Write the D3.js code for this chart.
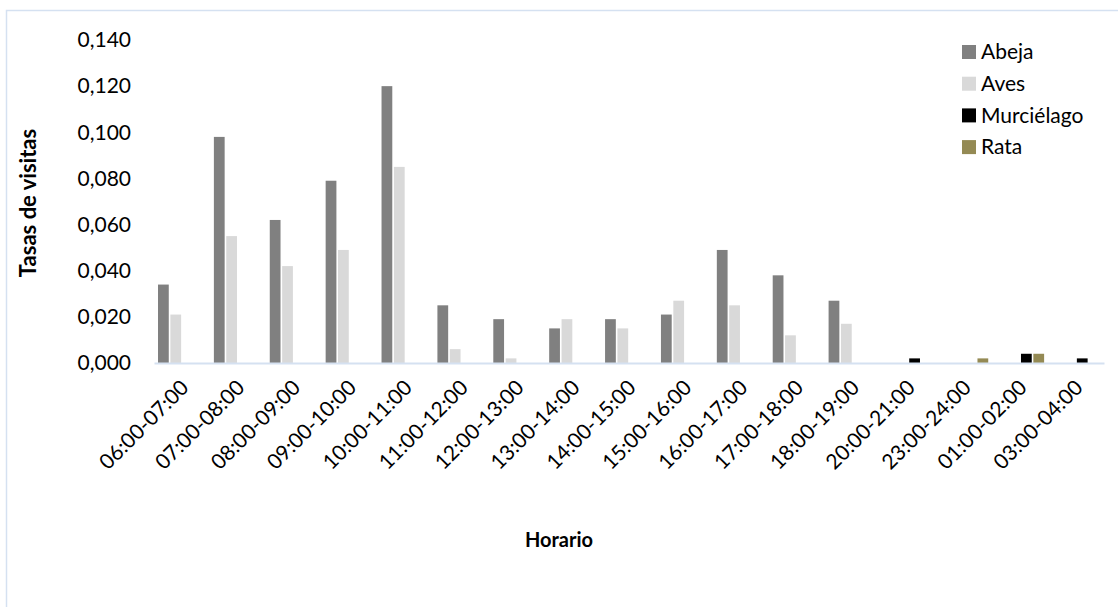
<!DOCTYPE html>
<html>
<head>
<meta charset="utf-8">
<script src="https://cdn.jsdelivr.net/npm/d3@7"></script>
<style>
  body { margin: 0; background: #fff; }
  svg { font-family: Lato, "Open Sans", sans-serif; }
</style>
</head>
<body>
<div id="chart"></div>
<script>
// Chart data
const horarios = ["06:00-07:00", "07:00-08:00", "08:00-09:00", "09:00-10:00", "10:00-11:00",
    "11:00-12:00", "12:00-13:00", "13:00-14:00", "14:00-15:00", "15:00-16:00", "16:00-17:00",
    "17:00-18:00", "18:00-19:00", "20:00-21:00", "23:00-24:00", "01:00-02:00", "03:00-04:00"];
const series = ["Abeja", "Aves", "Murciélago", "Rata"];
const abeja = [0.034, 0.098, 0.062, 0.079, 0.120, 0.025, 0.019, 0.015, 0.019, 0.021, 0.049, 0.038, 0.027, 0, 0, 0, 0];
const aves = [0.021, 0.055, 0.042, 0.049, 0.085, 0.006, 0.002, 0.019, 0.015, 0.027, 0.025, 0.012, 0.017, 0, 0, 0, 0];
const murcielago = [0, 0, 0, 0, 0, 0, 0, 0, 0, 0, 0, 0, 0, 0.002, 0, 0.004, 0.002];
const rata = [0, 0, 0, 0, 0, 0, 0, 0, 0, 0, 0, 0, 0, 0, 0.002, 0.004, 0];
const yTicks = [0, 0.02, 0.04, 0.06, 0.08, 0.10, 0.12, 0.14];

const colors = ["#808080", "#d9d9d9", "#000000", "#948a54"];
const values = [abeja, aves, murcielago, rata];

// Dimensions
const svgWidth = 1118;
const svgHeight = 607;
const margin = { top: 40, right: 14, bottom: 244, left: 154 };
const width = svgWidth - margin.left - margin.right;
const height = svgHeight - margin.top - margin.bottom;

const svg = d3.select("#chart")
    .append("svg")
    .attr("width", svgWidth)
    .attr("height", svgHeight);

// Chart border
svg.append("rect")
    .attr("x", 6.5)
    .attr("y", 10.5)
    .attr("width", 1130)
    .attr("height", 620)
    .attr("fill", "none")
    .attr("stroke", "#d5e1f1")
    .attr("stroke-width", 1.5);

const chartGroup = svg.append("g")
    .attr("transform", `translate(${margin.left}, ${margin.top})`);

// Scales
const x0 = d3.scaleBand()
    .domain(horarios)
    .range([0, width])
    .paddingInner(0)
    .paddingOuter(0);

const x1 = d3.scaleBand()
    .domain(series)
    .range([4, x0.bandwidth() - 4])
    .paddingInner(0.13);

const y = d3.scaleLinear()
    .domain([0, 0.14])
    .range([height, 0]);

// Bars
const rows = horarios.map((h, i) => ({ h, vals: series.map((s, j) => ({ s, j, v: values[j][i] })) }));

chartGroup.selectAll(".cat")
    .data(rows)
    .enter()
    .append("g")
    .attr("class", "cat")
    .attr("transform", d => `translate(${x0(d.h)}, 0)`)
    .selectAll("rect")
    .data(d => d.vals.filter(v => v.v > 0))
    .enter()
    .append("rect")
    .attr("x", d => x1(d.s))
    .attr("y", d => y(d.v))
    .attr("width", x1.bandwidth())
    .attr("height", d => height - y(d.v))
    .attr("fill", d => colors[d.j]);

// Y axis
const leftAxis = d3.axisLeft(y)
    .tickValues(yTicks)
    .tickSize(0)
    .tickPadding(23)
    .tickFormat(d => d3.format(".3f")(d).replace(".", ","));

const yAxisG = chartGroup.append("g").call(leftAxis);
yAxisG.select(".domain").remove();
yAxisG.selectAll("text")
    .attr("font-size", "21px")
    .attr("font-family", "Lato, sans-serif")
    .attr("fill", "#000");

// X axis
const bottomAxis = d3.axisBottom(x0).tickSize(0);
const xAxisG = chartGroup.append("g")
    .attr("transform", `translate(0, ${height})`)
    .call(bottomAxis);
xAxisG.select(".domain")
    .attr("stroke", "#d5e1f1")
    .attr("stroke-width", 2);
xAxisG.selectAll("text")
    .attr("font-size", "21px")
    .attr("font-family", "Lato, sans-serif")
    .attr("fill", "#000")
    .attr("text-anchor", "end")
    .attr("dy", null)
    .attr("y", 0)
    .attr("transform", "translate(8, 26) rotate(-45)");

// Legend
const legend = svg.append("g")
    .attr("transform", "translate(962, 52)");

const legendItems = legend.selectAll(".legendItem")
    .data(series)
    .enter()
    .append("g")
    .attr("class", "legendItem")
    .attr("transform", (d, i) => `translate(0, ${i * 31.7})`);

legendItems.append("rect")
    .attr("x", 0)
    .attr("y", -7)
    .attr("width", 14)
    .attr("height", 14)
    .attr("fill", (d, i) => colors[i]);

legendItems.append("text")
    .attr("x", 19)
    .attr("y", 0)
    .attr("dy", "0.35em")
    .attr("font-size", "21px")
    .text(d => d);

// Axis titles
svg.append("text")
    .attr("transform", "translate(36, 203) rotate(-90)")
    .attr("text-anchor", "middle")
    .attr("font-size", "22px")
    .attr("font-weight", "bold")
    .text("Tasas de visitas");

svg.append("text")
    .attr("x", 559)
    .attr("y", 547)
    .attr("text-anchor", "middle")
    .attr("font-size", "20px")
    .attr("font-weight", "bold")
    .text("Horario");
</script>
</body>
</html>
